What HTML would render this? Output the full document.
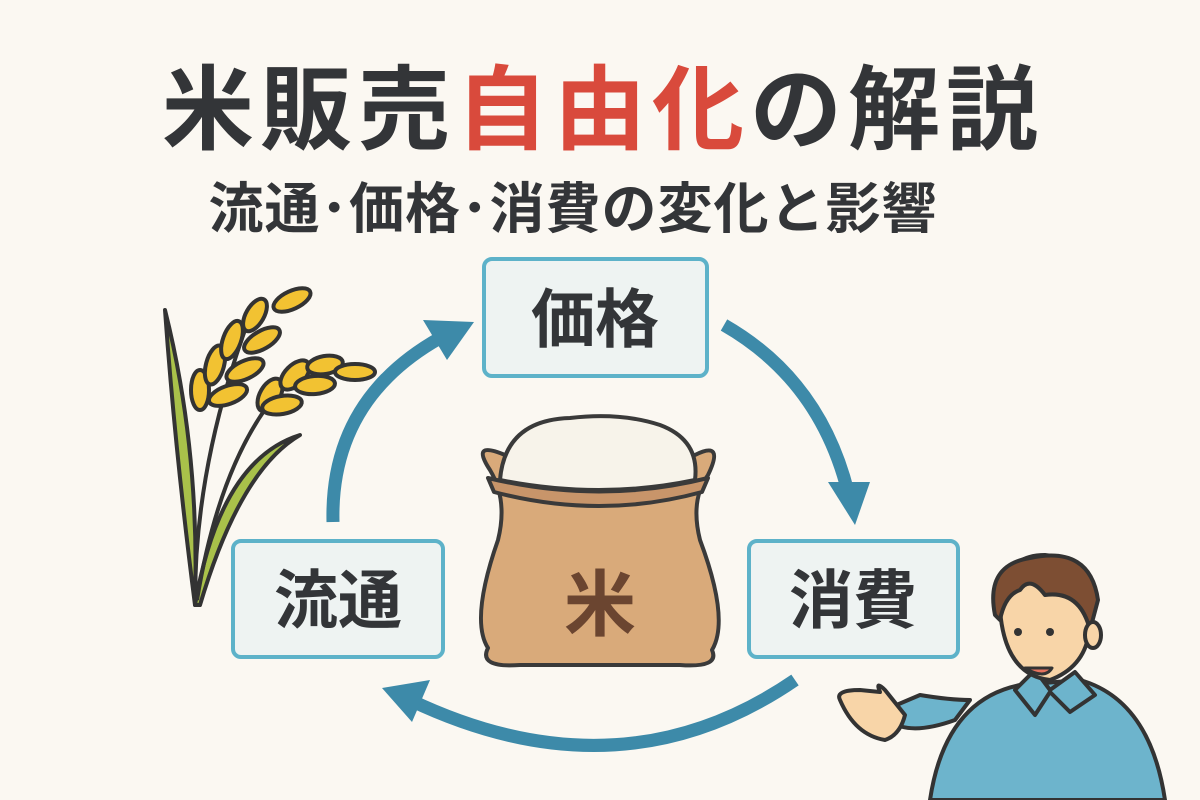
<!DOCTYPE html>
<html><head><meta charset="utf-8"><style>
html,body{margin:0;padding:0;background:#fbf8f2;}
svg{display:block}
text{font-family:"Liberation Sans","Noto Sans CJK JP",sans-serif;font-weight:bold;fill:#333538}
</style></head><body>
<svg width="1200" height="800" viewBox="0 0 1200 800">
<rect width="1200" height="800" fill="#fbf8f2"/>
<text x="603" y="142" font-size="92" text-anchor="middle" letter-spacing="6">米販売<tspan fill="#d94a3c">自由化</tspan>の解説</text>
<text x="573" y="228" font-size="55" text-anchor="middle" letter-spacing="1">流通･価格･消費の変化と影響</text>

<!-- arrows -->
<g fill="none" stroke="#3d8aa9" stroke-width="13" stroke-linecap="butt">
<path d="M333 522 Q330 400 440 338"/>
<path d="M724 325 Q820 380 848 492"/>
<path d="M795 680 Q620 800 410 700"/>
</g>
<g fill="#3d8aa9">
<polygon points="474,322 423,320 447,360"/>
<polygon points="855,525 828,482 870,482"/>
<polygon points="382,688 430,680 412,722"/>
</g>

<!-- boxes -->
<g stroke="#5db2c9" stroke-width="4" fill="#eef3f2">
<rect x="484" y="259" width="223" height="117" rx="8"/>
<rect x="233" y="541" width="210" height="116" rx="8"/>
<rect x="749" y="541" width="209" height="116" rx="8"/>
</g>
<text x="595" y="342" font-size="64" text-anchor="middle">価格</text>
<text x="338" y="623" font-size="64" text-anchor="middle">流通</text>
<text x="853" y="623" font-size="64" text-anchor="middle">消費</text>

<!-- rice bag -->
<g stroke="#3a3a3a" stroke-width="4" stroke-linejoin="round">
<path d="M490 470 Q470 440 505 455 L695 455 Q725 440 708 475 Q690 500 700 540 Q730 620 712 650 Q720 668 680 665 L520 665 Q478 668 488 648 Q470 620 498 540 Q508 500 490 470 Z" fill="#d9aa7a"/>
<path d="M500 480 Q505 420 570 418 Q620 412 660 425 Q700 440 695 480 Q600 500 500 480 Z" fill="#f7f3ea"/>
<path d="M488 478 Q600 505 708 478 L702 492 Q600 520 494 492 Z" fill="#c8956a"/>
</g>
<text x="600" y="630" font-size="72" text-anchor="middle" style="fill:#6b4530">米</text>

<!-- rice plant -->
<g stroke="#333" stroke-width="4" stroke-linejoin="round">
<path d="M165 310 Q200 450 195 605 Q175 450 165 310 Z" fill="#a9c14a"/>
<path d="M195 605 Q220 460 300 435 Q240 470 200 605 Z" fill="#a9c14a"/>
<path d="M195 600 Q195 470 245 330" fill="none"/>
<path d="M197 600 Q220 460 280 390" fill="none"/>
<g fill="#f2c232">
<ellipse cx="200" cy="390" rx="9" ry="20"/>
<ellipse cx="228" cy="395" rx="20" ry="9" transform="rotate(-20 228 395)"/>
<ellipse cx="215" cy="365" rx="9" ry="20" transform="rotate(15 215 365)"/>
<ellipse cx="245" cy="370" rx="20" ry="9" transform="rotate(-25 245 370)"/>
<ellipse cx="232" cy="340" rx="9" ry="20" transform="rotate(20 232 340)"/>
<ellipse cx="262" cy="340" rx="20" ry="9" transform="rotate(-30 262 340)"/>
<ellipse cx="255" cy="315" rx="9" ry="18" transform="rotate(30 255 315)"/>
<ellipse cx="292" cy="300" rx="20" ry="9" transform="rotate(-25 292 300)"/>
<ellipse cx="270" cy="395" rx="10" ry="18" transform="rotate(30 270 395)"/>
<ellipse cx="282" cy="405" rx="20" ry="9" transform="rotate(-10 282 405)"/>
<ellipse cx="295" cy="375" rx="10" ry="18" transform="rotate(45 295 375)"/>
<ellipse cx="315" cy="385" rx="20" ry="9" transform="rotate(-5 315 385)"/>
<ellipse cx="325" cy="365" rx="18" ry="9" transform="rotate(-10 325 365)"/>
<ellipse cx="355" cy="372" rx="20" ry="8"/>
</g>
</g>

<!-- person -->
<g stroke="#333" stroke-width="4" stroke-linejoin="round">
<path d="M930 800 Q945 700 1020 685 L1080 680 Q1150 700 1165 800 Z" fill="#6db4cc"/>
<path d="M955 720 Q900 740 880 712 L920 695 Q950 700 970 700 Z" fill="#6db4cc"/>
<path d="M840 700 Q835 690 860 690 L880 692 Q875 680 885 690 L905 715 Q900 735 885 740 Q855 735 840 700 Z" fill="#f8d5a8"/>
<path d="M1015 690 L1035 670 L1050 690 L1075 672 L1095 695 L1070 712 L1050 692 L1035 715 Z" fill="#6db4cc"/>
<path d="M1000 610 Q1000 555 1045 555 Q1095 560 1090 620 Q1090 665 1050 680 Q1005 675 1000 610 Z" fill="#f8d5a8"/>
<path d="M995 615 Q985 565 1030 558 Q1090 545 1098 600 L1090 630 Q1080 590 1045 595 Q1030 575 1020 590 Q1005 595 1000 620 Z" fill="#7d4e33"/>
<ellipse cx="1093" cy="635" rx="8" ry="13" fill="#f8d5a8"/>
<path d="M1025 668 Q1045 680 1052 668 Z" fill="#e5735f" stroke-width="3"/>
</g>
<circle cx="1018" cy="632" r="4" fill="#333"/>
<circle cx="1050" cy="632" r="4" fill="#333"/>
</svg>
</body></html>
